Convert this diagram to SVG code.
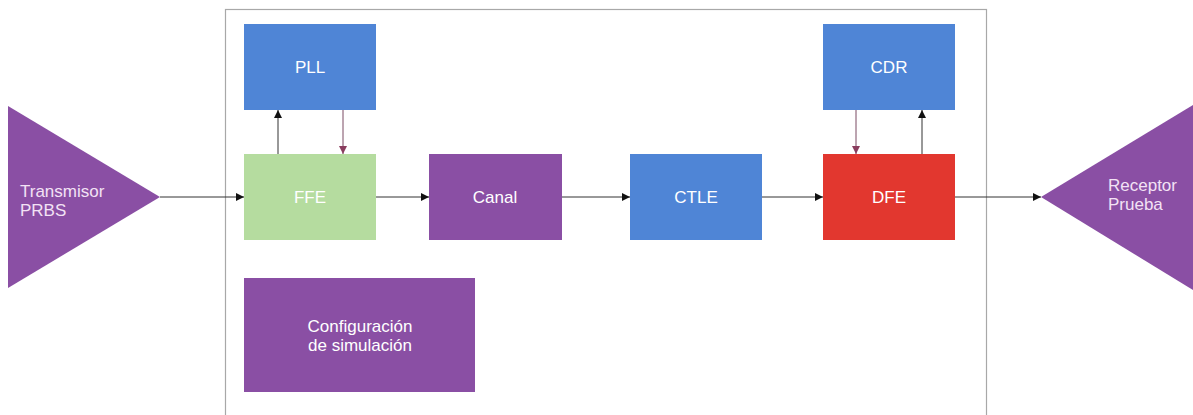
<svg xmlns="http://www.w3.org/2000/svg" width="1193" height="415" viewBox="0 0 1193 415">
  <style>
    .blue { fill: #4f85d6; }
    .green { fill: #b5dc9f; }
    .purple { fill: #8a4fa4; }
    .red { fill: #e2372f; }
    .lbl { font-family: "Liberation Sans", Arial, sans-serif; font-size: 17px; fill: #ffffff; text-anchor: middle; dominant-baseline: central; }
    .side { font-family: "Liberation Sans", Arial, sans-serif; font-size: 17px; fill: #f3e2f5; dominant-baseline: central; }
    .wire { stroke: #333333; stroke-width: 1; fill: none; }
    .back { stroke: #7a4a62; stroke-width: 1; fill: none; }
  </style>
  <defs>
    <marker id="arr" viewBox="0 0 10 10" refX="10" refY="5" markerWidth="8" markerHeight="8" markerUnits="userSpaceOnUse" orient="auto">
      <path d="M0,0 L10,5 L0,10 z" fill="#111111"/>
    </marker>
    <marker id="arrB" viewBox="0 0 10 10" refX="10" refY="5" markerWidth="8" markerHeight="8" markerUnits="userSpaceOnUse" orient="auto">
      <path d="M0,0 L10,5 L0,10 z" fill="#8a3d5e"/>
    </marker>
  </defs>
  <rect width="1193" height="415" fill="#ffffff"/>

  <!-- system boundary -->
  <rect x="225.5" y="9.5" width="761" height="420" fill="none" stroke="#a8a8a8" stroke-width="1.2"/>

  <g id="connectors">
    <line class="wire" x1="160" y1="197" x2="244" y2="197" marker-end="url(#arr)"/>
    <line class="wire" x1="376" y1="197" x2="429" y2="197" marker-end="url(#arr)"/>
    <line class="wire" x1="562" y1="197" x2="630" y2="197" marker-end="url(#arr)"/>
    <line class="wire" x1="762" y1="197" x2="823" y2="197" marker-end="url(#arr)"/>
    <line class="wire" x1="955" y1="197" x2="1041" y2="197" marker-end="url(#arr)"/>
    <line class="wire" x1="278" y1="154" x2="278" y2="110" marker-end="url(#arr)"/>
    <line class="back" x1="343" y1="110" x2="343" y2="154" marker-end="url(#arrB)"/>
    <line class="back" x1="856" y1="110" x2="856" y2="154" marker-end="url(#arrB)"/>
    <line class="wire" x1="922" y1="154" x2="922" y2="110" marker-end="url(#arr)"/>
  </g>

  <g id="transmisor">
    <polygon class="purple" points="8,106 160,197 8,288"/>
    <text class="side" x="20" y="191">Transmisor</text>
    <text class="side" x="20" y="210">PRBS</text>
  </g>

  <g id="receptor">
    <polygon class="purple" points="1193,105 1041,197 1193,290"/>
    <text class="side" x="1108" y="185">Receptor</text>
    <text class="side" x="1108" y="204">Prueba</text>
  </g>

  <g id="pll">
    <rect class="blue" x="244" y="24" width="132" height="86"/>
    <text class="lbl" x="310" y="67">PLL</text>
  </g>

  <g id="ffe">
    <rect class="green" x="244" y="154" width="132" height="86"/>
    <text class="lbl" x="310" y="197">FFE</text>
  </g>

  <g id="canal">
    <rect class="purple" x="429" y="154" width="133" height="86"/>
    <text class="lbl" x="495" y="197">Canal</text>
  </g>

  <g id="ctle">
    <rect class="blue" x="630" y="154" width="132" height="86"/>
    <text class="lbl" x="696" y="197">CTLE</text>
  </g>

  <g id="dfe">
    <rect class="red" x="823" y="154" width="132" height="86"/>
    <text class="lbl" x="889" y="197">DFE</text>
  </g>

  <g id="cdr">
    <rect class="blue" x="823" y="24" width="132" height="86"/>
    <text class="lbl" x="889" y="67">CDR</text>
  </g>

  <g id="config">
    <rect class="purple" x="244" y="278" width="231" height="114"/>
    <text class="lbl" x="360" y="326">Configuración</text>
    <text class="lbl" x="360" y="345">de simulación</text>
  </g>
</svg>
